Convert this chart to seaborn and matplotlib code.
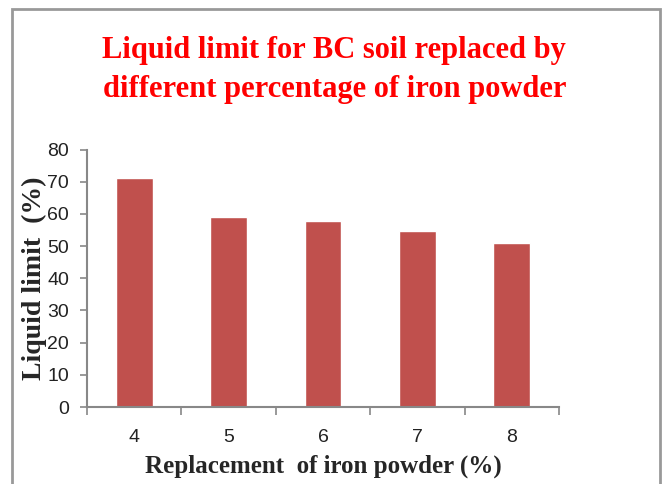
import seaborn as sns
import matplotlib.pyplot as plt
import pandas as pd
from matplotlib.patches import Rectangle

replacement = ['4', '5', '6', '7', '8']
liquid_limit = [71.0, 59.1, 57.9, 54.7, 50.8]

df = pd.DataFrame({'replacement': replacement, 'liquid_limit': liquid_limit})

sns.set_style('white')

fig = plt.figure(figsize=(6.66, 4.84), dpi=100)
ax = fig.add_axes([87 / 666, 77 / 484, 472 / 666, 257.5 / 484])

sns.barplot(x='replacement', y='liquid_limit', data=df, color='#C0504D',
            width=0.39, saturation=1, ax=ax)

ax.set_xlim(-0.5, 4.5)
ax.set_ylim(0, 80)
ax.set_yticks(range(0, 81, 10))

# Excel-style ticks between categories
ax.set_xticks([i - 0.5 for i in range(6)], minor=True)
ax.tick_params(axis='x', which='major', bottom=True, length=0, pad=16, labelsize=14)
ax.tick_params(axis='x', which='minor', bottom=True, length=6, width=1.2,
               color='#888888', direction='out')
ax.tick_params(axis='y', left=True, length=5, width=1.2, color='#888888',
               direction='out', labelsize=14, pad=8)
for lbl in ax.get_xticklabels() + ax.get_yticklabels():
    lbl.set_fontfamily('Liberation Sans')
    lbl.set_color('#222222')

sns.despine(ax=ax)
for side in ['left', 'bottom']:
    ax.spines[side].set_color('#888888')
    ax.spines[side].set_linewidth(1.5)

ax.set_xlabel('Replacement  of iron powder (%)', family='Liberation Serif',
              fontweight='bold', fontsize=18, labelpad=6)
ax.set_ylabel('Liquid limit  (%)', family='Liberation Serif',
              fontweight='bold', fontsize=20, labelpad=0)

fig.text(0.502, 1 - 70 / 484, 'Liquid limit for BC soil replaced by\ndifferent percentage of iron powder',
         ha='center', va='center', color='#FF0000', family='Liberation Serif',
         fontweight='bold', fontsize=22, linespacing=1.42)

# chart frame
fig.patches.append(Rectangle((12 / 666, -0.05), 648 / 666, (484 - 8.5) / 484 + 0.05,
                             transform=fig.transFigure, fill=False,
                             edgecolor='#999999', linewidth=2))

fig.savefig('out.png', dpi=100)
